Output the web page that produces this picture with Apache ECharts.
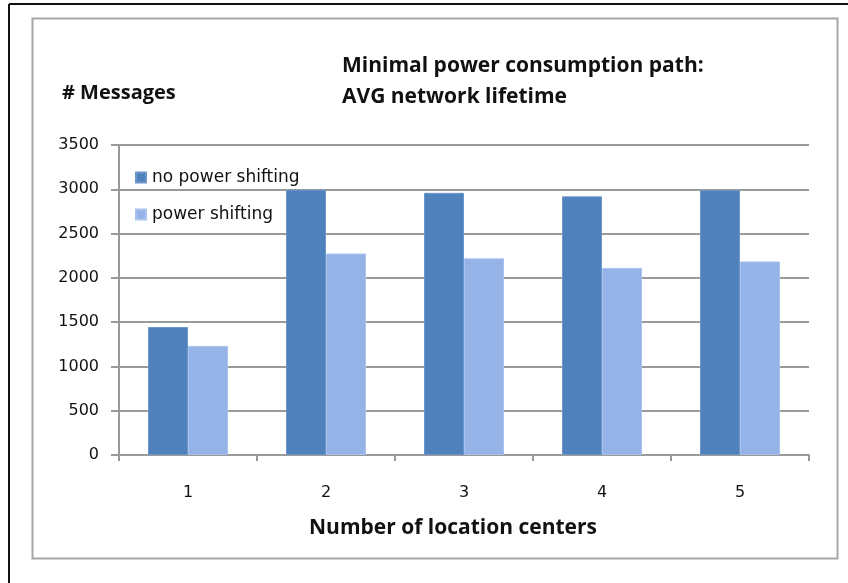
<!DOCTYPE html>
<html>
<head>
<meta charset="utf-8">
<script src="https://cdn.jsdelivr.net/npm/echarts@6/dist/echarts.min.js"></script>
<style>
    html, body { margin: 0; padding: 0; background: #fff; }
    #chart { width: 848px; height: 583px; }
</style>
</head>
<body>
<div id="chart"></div>
<script>
    // data
    var categories = ['1', '2', '3', '4', '5'];
    var noShifting = [1445, 2995, 2960, 2920, 2990];
    var shifting = [1232, 2275, 2220, 2112, 2185];
    var seriesNames = ['no power shifting', 'power shifting'];

    var chart = echarts.init(document.getElementById('chart'));
    var titleFont = '"Open Sans", Lato, sans-serif';
    var tickFont = '"DejaVu Sans", Verdana, sans-serif';

    chart.setOption({
        animation: false,
        backgroundColor: '#fff',
        graphic: [
            // outer frame (only top and left visible)
            { type: 'line', shape: { x1: 9, y1: 4, x2: 848, y2: 4 }, style: { stroke: '#111', lineWidth: 2 } },
            { type: 'line', shape: { x1: 9, y1: 4, x2: 9, y2: 583 }, style: { stroke: '#111', lineWidth: 2 } },
            // inner grey box
            { type: 'rect', shape: { x: 32.5, y: 18.5, width: 805, height: 540 }, style: { fill: 'none', stroke: '#a6a6a6', lineWidth: 2 } }
        ],
        title: [
            {
                text: '# Messages',
                left: 57, top: 78,
                textStyle: { fontFamily: titleFont, fontWeight: 'bold', fontSize: 20, color: '#111' }
            },
            {
                text: 'Minimal power consumption path:\nAVG network lifetime',
                left: 337, top: 46,
                textStyle: { fontFamily: titleFont, fontWeight: 'bold', fontSize: 21, color: '#111', lineHeight: 31 }
            }
        ],
        legend: {
            orient: 'vertical',
            left: 130, top: 164,
            itemWidth: 10, itemHeight: 10, itemGap: 20,
            icon: 'rect',
            data: seriesNames,
            textStyle: { fontFamily: tickFont, fontSize: 17, color: '#111', padding: [0, 0, 0, 1] }
        },
        grid: { left: 119, right: 39, top: 145, bottom: 128 },
        xAxis: {
            type: 'category',
            data: categories,
            name: 'Number of location centers',
            nameLocation: 'middle',
            nameGap: 63,
            nameTextStyle: { fontFamily: titleFont, fontWeight: 'bold', fontSize: 21, color: '#111', padding: [0, 22, 0, 0] },
            axisLine: { lineStyle: { color: '#9a9a9a', width: 2 } },
            axisTick: { show: true, length: 6, lineStyle: { color: '#9a9a9a', width: 2 } },
            axisLabel: { fontFamily: tickFont, fontSize: 16, color: '#111', margin: 30 }
        },
        yAxis: {
            type: 'value',
            min: 0, max: 3500, interval: 500,
            axisLine: { show: true, lineStyle: { color: '#9a9a9a', width: 2 } },
            axisTick: { show: true, length: 8, lineStyle: { color: '#9a9a9a', width: 2 } },
            axisLabel: {
                fontFamily: tickFont, fontSize: 16, color: '#111', margin: 20,
                formatter: function (v) { return String(v); }
            },
            splitLine: { lineStyle: { color: '#9a9a9a', width: 2 } }
        },
        series: [
            {
                name: seriesNames[0],
                type: 'bar',
                data: noShifting,
                barWidth: 40,
                barGap: '0%',
                itemStyle: { color: '#4f81bd', borderColor: '#6e96c8', borderWidth: 1 }
            },
            {
                name: seriesNames[1],
                type: 'bar',
                data: shifting,
                barWidth: 40,
                itemStyle: { color: '#95b3e7', borderColor: '#a9c3ee', borderWidth: 1 }
            }
        ]
    });
</script>
</body>
</html>
